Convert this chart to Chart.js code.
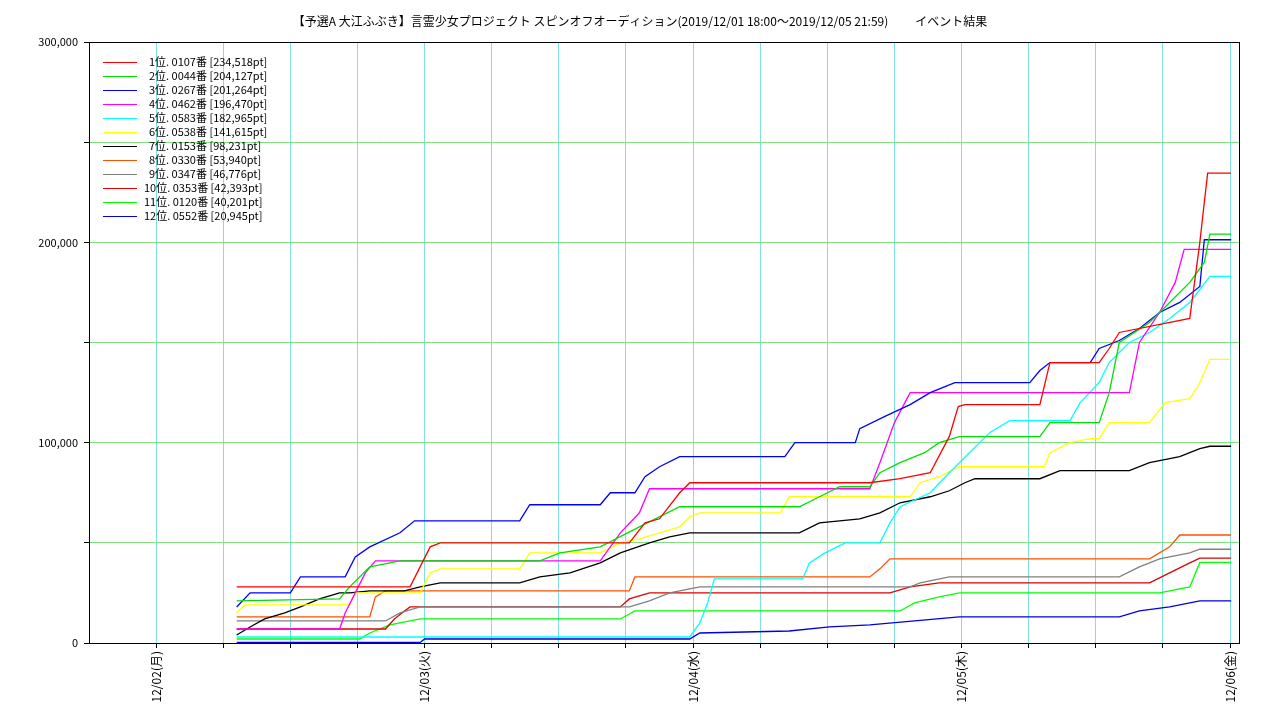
<!DOCTYPE html>
<html><head><meta charset="utf-8">
<script src="https://cdn.jsdelivr.net/npm/chart.js@4"></script>
<style>body{margin:0;background:#fff}#w{width:1280px;height:720px}</style>
</head><body><div id="w"><canvas id="c"></canvas></div>
<script>
const titleText = '【予選A 大江ふぶき】言霊少女プロジェクト スピンオフオーディション(2019/12/01 18:00〜2019/12/05 21:59)          イベント結果';
const dayLabels = ['12/02(月)','12/03(火)','12/04(水)','12/05(木)','12/06(金)'];
const names = ['  1位. 0107番 [234,518pt]','  2位. 0044番 [204,127pt]','  3位. 0267番 [201,264pt]','  4位. 0462番 [196,470pt]','  5位. 0583番 [182,965pt]','  6位. 0538番 [141,615pt]','  7位. 0153番 [98,231pt]','  8位. 0330番 [53,940pt]','  9位. 0347番 [46,776pt]','10位. 0353番 [42,393pt]','11位. 0120番 [40,201pt]','12位. 0552番 [20,945pt]'];
const colors = ['#ff0000','#00e000','#0000ff','#ff00ff','#00ffff','#ffff00','#000000','#ff5000','#808080','#e00000','#00ff00','#0000e0'];
// [hours since 12/01 18:00, thousand pt]
const s1 = [[13.2,28],[28.7,28],[30.5,48],[31.4,50],[48.3,50],[49.7,60],[51,62],[52.8,75],[53.7,80],[69.8,80],[72.5,82],[75.2,85],[76.9,103],[77.7,118],[78.3,119],[85,119],[85.9,140],[90.3,140],[91.2,147],[92.1,155],[98.4,162],[99.3,200],[99.7,220],[100,234.5],[102.1,234.5]];
const s2 = [[13.2,21],[22.4,22],[23.3,28],[25.1,38],[27.8,41],[40.3,41],[42.1,45],[45.7,48],[49.2,58],[52.8,68],[63.5,68],[65.3,73],[67.1,78],[69.8,78],[70.7,85],[72.5,90],[74.7,95],[76,100],[77.8,103],[85,103],[85.9,110],[90.3,110],[91.2,125],[92.1,150],[94.8,160],[96.6,170],[98.4,180],[99.7,190],[100.2,204.1],[102.1,204.1]];
const s3 = [[13.2,18],[14.4,25],[18,25],[18.9,33],[22.9,33],[23.8,43],[25.1,48],[27.8,55],[29.1,61],[38.5,61],[39.4,69],[45.7,69],[46.6,75],[48.8,75],[49.7,83],[51,88],[52.8,93],[62.2,93],[63.1,100],[68.5,100],[68.9,107],[71.1,113],[73.4,119],[75.2,125],[77.4,130],[84.1,130],[85,136],[85.9,140],[89.5,140],[90.3,147],[92.1,151],[93.9,157],[95.7,165],[97.5,170],[99.3,178],[99.7,201.3],[102.1,201.3]];
const s4 = [[13.2,7],[22.4,7],[22.9,15],[23.8,25],[24.7,35],[25.6,41],[45.7,41],[47.5,55],[49.2,65],[50.1,77],[69.8,77],[70.7,90],[72,110],[73.4,125],[93,125],[93.9,150],[95.7,165],[97.1,180],[97.9,196.5],[102.1,196.5]];
const s5 = [[13.2,3],[53.7,3],[54.6,10],[55.3,20],[55.9,32],[63.8,32],[64.4,40],[65.8,45],[67.6,50],[70.7,50],[71.6,60],[72.5,68],[75.2,75],[76.9,85],[78.7,95],[80.5,105],[82.3,111],[87.7,111],[88.6,120],[90.3,130],[91.2,140],[93,150],[94.8,155],[96.6,162],[98.4,170],[100.2,183],[102.1,183]];
const s6 = [[13.2,15],[13.9,19],[23.3,19],[23.8,25],[29.6,25],[30.5,35],[31.4,37],[38.5,37],[39.4,45],[45.7,45],[47.5,50],[49.2,52],[51,55],[52.8,58],[53.7,63],[54.6,65],[61.8,65],[62.6,73],[73.4,73],[74.3,80],[76,83],[77.8,88],[85.4,88],[85.9,95],[87.7,100],[89.5,102],[90.3,102],[91.2,110],[94.8,110],[96.2,120],[98.4,122],[99.3,130],[100.2,141.6],[102.1,141.6]];
const s7 = [[13.2,4],[14.4,8],[15.7,12],[17.5,15],[18.9,18],[20.6,22],[22.4,25],[23.3,25],[25.1,26],[28.2,26],[29.6,28],[31.4,30],[38.5,30],[40.3,33],[43,35],[45.7,40],[47.5,45],[50.1,50],[51.9,53],[53.7,55],[63.5,55],[65.3,60],[68.9,62],[70.7,65],[72.5,70],[75.2,73],[76.9,76],[78.3,80],[79.2,82],[85,82],[86.8,86],[93,86],[94.8,90],[97.5,93],[99.3,97],[100.2,98.2],[102.1,98.2]];
const s8 = [[13.2,13],[25.1,13],[25.6,23],[26.5,26],[48.3,26],[48.8,33],[69.8,33],[70.7,37],[71.6,42],[94.8,42],[96.6,48],[97.5,53.9],[102.1,53.9]];
const s9 = [[13.2,11],[26.5,11],[27.8,15],[29.6,18],[48.3,18],[50.1,21],[51.9,25],[54.6,28],[73.4,28],[74.3,30],[76.9,33],[92.1,33],[93.9,38],[95.7,42],[98.4,45],[99.3,46.8],[102.1,46.8]];
const s10 = [[13.2,7],[26.5,7],[27.3,12],[28.2,16],[28.7,18],[47.5,18],[48.3,22],[50.1,25],[71.6,25],[73.4,28],[76,30],[94.8,30],[96.6,35],[98.4,40],[99.3,42.4],[102.1,42.4]];
const s11 = [[13.2,2],[24.2,2],[25.1,5],[26.9,9],[29.6,12],[47.5,12],[48.8,16],[72.5,16],[73.8,20],[76,23],[77.8,25],[95.7,25],[98.4,28],[99.3,40.2],[102.1,40.2]];
const s12 = [[13.2,0.3],[29.6,0.3],[30,2],[53.7,2],[54.6,5],[62.6,6],[66.2,8],[69.8,9],[77.8,13],[92.1,13],[93.9,16],[96.6,18],[99.3,21],[102.1,21]];
const series = [s1,s2,s3,s4,s5,s6,s7,s8,s9,s10,s11,s12];

const FONT = "'Noto Sans CJK JP','DejaVu Sans',sans-serif";
const deco = {
  id:'deco',
  afterDraw(ch){
    const c=ch.ctx, a=ch.chartArea;
    c.save();
    c.fillStyle='#000'; c.font='12px '+FONT; c.textAlign='center'; c.textBaseline='middle';
    c.fillText(titleText,640,21);
    c.textAlign='left'; c.font='11px '+FONT;
    names.forEach((n,i)=>{
      const y=62+i*14;
      c.strokeStyle=colors[i]; c.lineWidth=1;
      c.beginPath(); c.moveTo(103,y+0.5); c.lineTo(137,y+0.5); c.stroke();
      c.fillText(n,144,y);
    });
    c.strokeStyle='#000'; c.lineWidth=1;
    c.strokeRect(a.left+0.5,a.top+0.5,a.right-a.left,a.bottom-a.top);
    c.restore();
  }
};
new Chart(document.getElementById('c'),{
  type:'line',
  data:{datasets:series.map((s,i)=>({label:names[i],data:s.map(p=>({x:p[0],y:p[1]*1000})),borderColor:colors[i],borderWidth:1.3,pointRadius:0,fill:false,tension:0}))},
  options:{
    responsive:true,maintainAspectRatio:false,animation:false,
    layout:{padding:{top:42,right:41,left:0,bottom:0}},
    plugins:{legend:{display:false},tooltip:{enabled:false}},
    scales:{
      x:{type:'linear',min:0,max:102.8,
        afterFit(s){s.height=77;},
        afterBuildTicks(s){const t=[];for(let v=6;v<=102;v+=6)t.push({value:v});s.ticks=t;},
        ticks:{autoSkip:false,maxRotation:90,minRotation:90,color:'#000',font:{size:12,family:FONT},
          callback(v){return (v-6)%24===0?dayLabels[(v-6)/24]:'';}},
        grid:{color:'#7fe0e0',borderDash:[1,3],drawTicks:true,tickLength:5,tickColor:'#000'},
        border:{display:false}},
      y:{min:0,max:300000,
        afterFit(s){s.width=89;},
        afterBuildTicks(s){const t=[];for(let v=0;v<=300000;v+=50000)t.push({value:v});s.ticks=t;},
        ticks:{color:'#000',font:{size:11,family:FONT},padding:6,
          callback(v){return v%100000===0?v.toLocaleString('en-US'):'';}},
        grid:{color:'#80e080',borderDash:[1,3],tickLength:5,tickColor:'#000'},
        border:{display:false}}
    }
  },
  plugins:[deco]
});
</script></body></html>
